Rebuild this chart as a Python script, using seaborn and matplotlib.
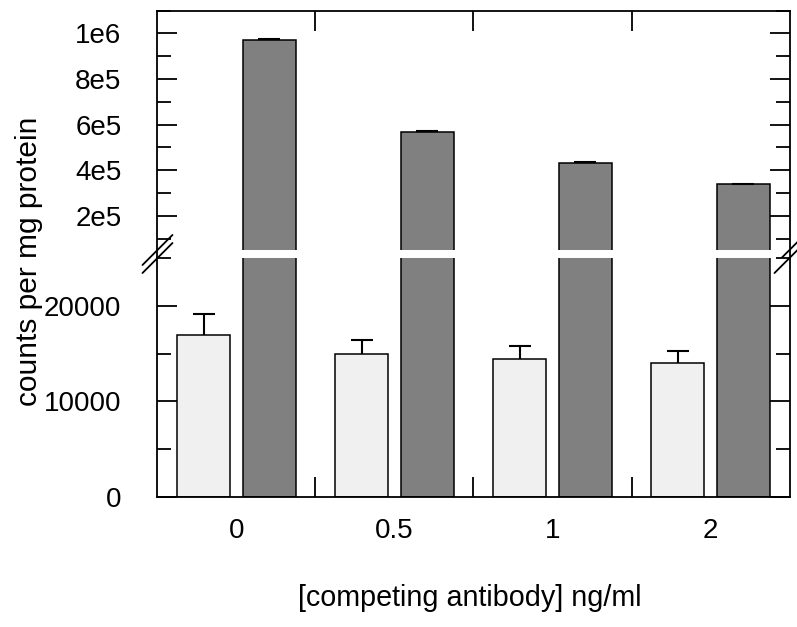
import numpy as np
import pandas as pd
import matplotlib
matplotlib.use("Agg")
import matplotlib.pyplot as plt
from matplotlib.lines import Line2D
from matplotlib.ticker import MultipleLocator, FixedLocator, FuncFormatter
import seaborn as sns

# data
doses = ["0", "0.5", "1", "2"]
groups = ["light", "dark"]
light_counts = [16900, 15000, 14400, 14000]
light_err = [2200, 1470, 1390, 1290]
dark_counts = [972000, 569000, 430000, 338000]
dark_err = [4000, 4000, 4000, 3000]
top_ticks = [2e5, 4e5, 6e5, 8e5, 1e6]
top_labels = ["2e5", "4e5", "6e5", "8e5", "1e6"]

df = pd.DataFrame({
    "dose": doses * 2,
    "group": [groups[0]] * 4 + [groups[1]] * 4,
    "counts": light_counts + dark_counts,
    "err": light_err + dark_err,
})

sns.set_style("ticks")
plt.rcParams["font.family"] = ["Liberation Sans", "DejaVu Sans"]
plt.rcParams["text.color"] = "black"
plt.rcParams["xtick.color"] = "black"
plt.rcParams["ytick.color"] = "black"
plt.rcParams["axes.edgecolor"] = "black"

fig = plt.figure(figsize=(7.97, 6.27), dpi=100)
L, W = 0.1976, 0.793
ax_top = fig.add_axes([L, 0.6013, W, 0.3817])
ax_bot = fig.add_axes([L, 0.2073, W, 0.3812])

fs = 20
cap = 0.07  # half cap width in category units
for ax in (ax_top, ax_bot):
    sns.barplot(data=df, x="dose", y="counts", hue="group", ax=ax,
                palette=["#f0f0f0", "#808080"], width=0.832, gap=0.192,
                edgecolor="black", linewidth=1.1, saturation=1, legend=False)
    # error bars (upward only) from bar centres
    for patch, (_, row) in zip(ax.patches, df.iterrows()):
        xc = patch.get_x() + patch.get_width() / 2
        hi = row["counts"] + row["err"]
        ax.plot([xc, xc], [row["counts"], hi], color="black", lw=1.5, solid_capstyle="butt")
        ax.plot([xc - cap, xc + cap], [hi, hi], color="black", lw=1.5, solid_capstyle="butt")
    ax.set_xlim(-0.5, 3.5)
    ax.set_xlabel("")
    ax.set_ylabel("")
    for s in ax.spines.values():
        s.set_linewidth(1.3)
    ax.xaxis.set_minor_locator(FixedLocator([0.5, 1.5, 2.5]))
    ax.tick_params(axis="x", which="major", length=0, labelsize=fs, pad=15)
    ax.tick_params(axis="x", which="minor", direction="in", length=14.5, width=1.3)
    ax.tick_params(axis="y", which="both", direction="in", left=True, right=True,
                   width=1.3, labelsize=fs, pad=26)
    ax.tick_params(axis="y", which="major", length=14.5)
    ax.tick_params(axis="y", which="minor", length=10)

# top part of the broken axis
ax_top.set_ylim(5e4, 1.1e6)
ax_top.yaxis.set_major_locator(FixedLocator(top_ticks))
ax_top.yaxis.set_major_formatter(FuncFormatter(lambda v, p: top_labels[top_ticks.index(v)] if v in top_ticks else ""))
ax_top.yaxis.set_minor_locator(MultipleLocator(1e5))
ax_top.spines["bottom"].set_visible(False)
ax_top.tick_params(axis="x", which="both", bottom=False, top=True, labelbottom=False)

# bottom part
ax_bot.set_ylim(0, 25000)
ax_bot.yaxis.set_major_locator(MultipleLocator(10000))
ax_bot.yaxis.set_minor_locator(MultipleLocator(5000))
ax_bot.spines["top"].set_visible(False)
ax_bot.tick_params(axis="x", which="both", bottom=True, top=False)

# spines continue through the gap
y0 = 0.2073 + 0.3812
y1 = 0.6013
for xs in (L, L + W):
    fig.add_artist(Line2D([xs, xs], [y0, y1], transform=fig.transFigure,
                          color="black", lw=1.3))

# break marks
dx, dy = 15 / 632, 15 / 239
kw = dict(color="black", lw=1.3, clip_on=False)
for xs in (0, 1):
    ax_top.plot([xs - dx, xs + dx], [-dy, dy], transform=ax_top.transAxes, **kw)
    ax_bot.plot([xs - dx, xs + dx], [1 - dy, 1 + dy], transform=ax_bot.transAxes, **kw)

fig.text(0.036, 0.583, "counts per mg protein", rotation=90, ha="center", va="center", fontsize=21.5)
fig.text(0.589, 0.046, "[competing antibody] ng/ml", ha="center", va="center", fontsize=20.7)

fig.savefig("out.png", dpi=100)
